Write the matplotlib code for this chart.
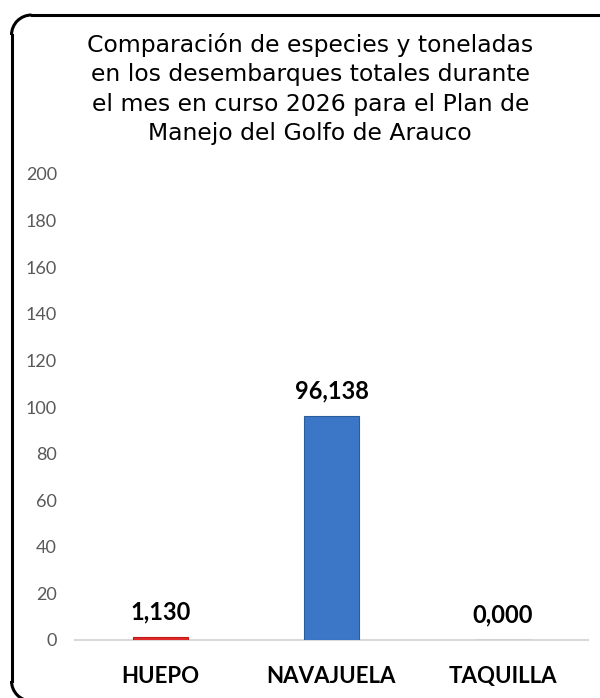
import matplotlib
matplotlib.use("Agg")
import matplotlib.pyplot as plt
from matplotlib.patches import Arc
from matplotlib.lines import Line2D

# data
species = ["HUEPO", "NAVAJUELA", "TAQUILLA"]
tons = [1.130, 96.138, 0.000]
bar_colors = ["#E02A2A", "#3B77C6", "#3B77C6"]
y_ticks = [0, 20, 40, 60, 80, 100, 120, 140, 160, 180, 200]
title = ("Comparación de especies y toneladas\n"
         "en los desembarques totales durante\n"
         "el mes en curso 2026 para el Plan de\n"
         "Manejo del Golfo de Arauco")

fig = plt.figure(figsize=(6.0, 6.98), dpi=100)

ax = fig.add_axes([75 / 600, 1 - 640 / 698, 513 / 600, 466 / 698])
x = range(len(species))
bars = ax.bar(x, tons, width=0.32, color=bar_colors,
              edgecolor=["#C01818", "#2A5C9E", "#2A5C9E"], linewidth=0.8,
              zorder=3)

for b, v in zip(bars, tons):
    ax.annotate(f"{v:.3f}".replace(".", ","),
                (b.get_x() + b.get_width() / 2, b.get_height()),
                xytext=(0, 13), textcoords="offset points",
                ha="center", va="baseline", fontsize=17,
                fontweight="bold", family="Lato", color="#000000")

ax.set_xlim(-0.5, 2.5)
ax.set_ylim(0, 200)
ax.set_yticks(y_ticks)
ax.set_yticklabels([str(t) for t in y_ticks], family="Lato",
                   fontsize=13, color="#595959")
ax.set_xticks(list(x))
ax.set_xticklabels(species, family="Lato", fontsize=16,
                   fontweight="bold", color="#000000")
ax.tick_params(axis="y", length=0, pad=13)
ax.tick_params(axis="x", length=0, pad=19)
for s in ["top", "right", "left"]:
    ax.spines[s].set_visible(False)
ax.spines["bottom"].set_color("#D9D9D9")
ax.spines["bottom"].set_linewidth(1.5)

fig.text(0.517, 1 - 33 / 698, title, ha="center", va="top",
         fontsize=16.9, family="DejaVu Sans", color="#000000",
         linespacing=1.35)

# rounded frame: only its left side and top are inside the picture
tr = fig.dpi_scale_trans
x0, y0, top, r = 0.115, -0.03, 6.83, 0.2
frame_kw = dict(color="black", linewidth=2.2, transform=tr, clip_on=False)
fig.add_artist(Line2D([x0, x0], [y0 + r, top - r], **frame_kw))
fig.add_artist(Line2D([x0 + r, 6.5], [top, top], **frame_kw))
fig.add_artist(Arc((x0 + r, top - r), 2 * r, 2 * r, theta1=90, theta2=180,
                   edgecolor="black", linewidth=2.2, transform=tr,
                   clip_on=False))
fig.add_artist(Arc((x0 + r, y0 + r), 2 * r, 2 * r, theta1=180, theta2=270,
                   edgecolor="black", linewidth=2.2, transform=tr,
                   clip_on=False))

fig.savefig("out.png", dpi=100)
